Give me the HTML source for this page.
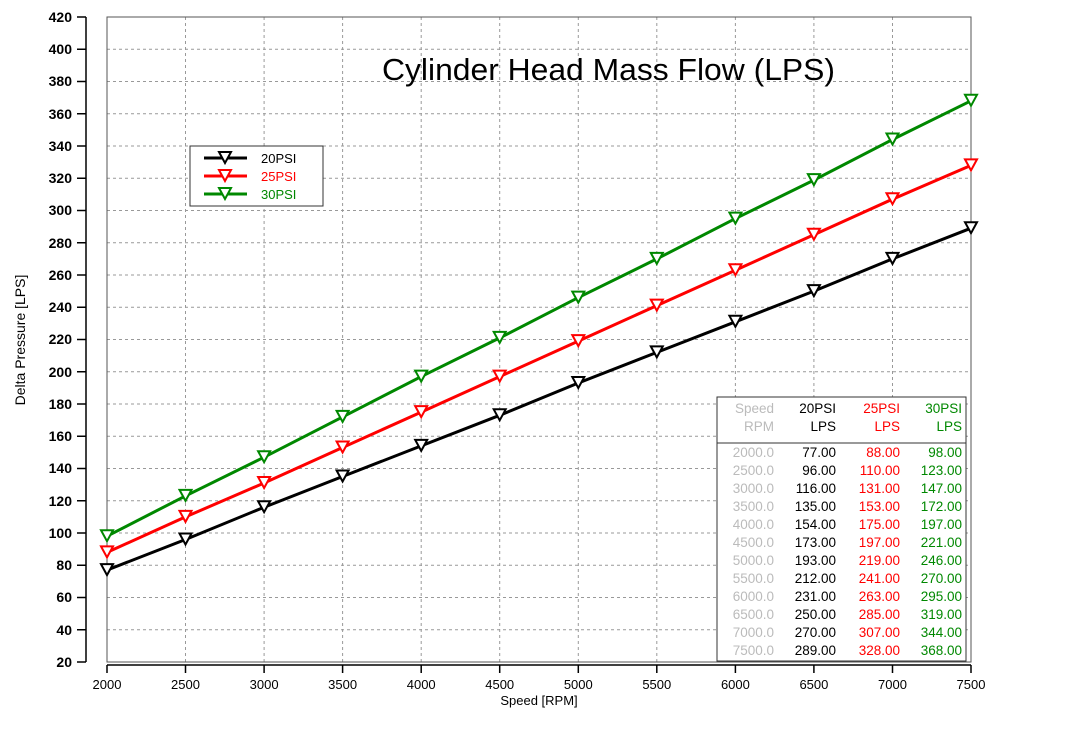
<!DOCTYPE html>
<html><head><style>body{margin:0;background:#fff}svg{display:block;font-family:"Liberation Sans",sans-serif}</style></head><body>
<svg width="1080" height="755" xmlns="http://www.w3.org/2000/svg">
<defs><path id="m" d="M-6,-6 L6,-6 L0,5 Z" fill="#fff" stroke-width="2"/></defs>
<rect width="1080" height="755" fill="#fff"/>
<g stroke="#999" stroke-dasharray="3,3" stroke-width="1">
<path d="M107,49.3H971M107,81.5H971M107,113.8H971M107,146H971M107,178.3H971M107,210.5H971M107,242.8H971M107,275H971M107,307.3H971M107,339.5H971M107,371.8H971M107,404H971M107,436.3H971M107,468.5H971M107,500.8H971M107,533H971M107,565.3H971M107,597.5H971M107,629.8H971"/>
<path d="M185.5,17V662M264.1,17V662M342.6,17V662M421.2,17V662M499.7,17V662M578.3,17V662M656.8,17V662M735.4,17V662M813.9,17V662M892.5,17V662"/>
</g>
<rect x="107" y="17" width="864" height="645" fill="none" stroke="#555" stroke-width="1"/>
<path d="M86,17V662" stroke="#000" stroke-width="1.5"/>
<g stroke="#000" stroke-width="1.5"><path d="M77,17H86M77,49.3H86M77,81.5H86M77,113.8H86M77,146H86M77,178.3H86M77,210.5H86M77,242.8H86M77,275H86M77,307.3H86M77,339.5H86M77,371.8H86M77,404H86M77,436.3H86M77,468.5H86M77,500.8H86M77,533H86M77,565.3H86M77,597.5H86M77,629.8H86M77,662H86"/>
<path d="M107,665H971M107,665V673M185.5,665V673M264.1,665V673M342.6,665V673M421.2,665V673M499.7,665V673M578.3,665V673M656.8,665V673M735.4,665V673M813.9,665V673M892.5,665V673M971,665V673"/></g>
<g font-size="14" font-weight="bold" text-anchor="end">
<text x="72" y="22">420</text><text x="72" y="54">400</text><text x="72" y="86">380</text><text x="72" y="119">360</text><text x="72" y="151">340</text><text x="72" y="183">320</text><text x="72" y="215">300</text><text x="72" y="248">280</text><text x="72" y="280">260</text><text x="72" y="312">240</text><text x="72" y="344">220</text><text x="72" y="377">200</text><text x="72" y="409">180</text><text x="72" y="441">160</text><text x="72" y="473">140</text><text x="72" y="506">120</text><text x="72" y="538">100</text><text x="72" y="570">80</text><text x="72" y="602">60</text><text x="72" y="635">40</text><text x="72" y="667">20</text>
</g>
<g font-size="13" text-anchor="middle">
<text x="107" y="689">2000</text><text x="185.5" y="689">2500</text><text x="264.1" y="689">3000</text><text x="342.6" y="689">3500</text><text x="421.2" y="689">4000</text><text x="499.7" y="689">4500</text><text x="578.3" y="689">5000</text><text x="656.8" y="689">5500</text><text x="735.4" y="689">6000</text><text x="813.9" y="689">6500</text><text x="892.5" y="689">7000</text><text x="971" y="689">7500</text>
<text x="539" y="705">Speed [RPM]</text>
<text transform="translate(25,340) rotate(-90)" font-size="14">Delta Pressure [LPS]</text>
</g>
<text x="382" y="80" font-size="31" textLength="453" lengthAdjust="spacingAndGlyphs">Cylinder Head Mass Flow (LPS)</text>
<g fill="none" stroke-width="3">
<polyline stroke="#000" points="107,570.1 185.5,539.5 264.1,507.2 342.6,476.5 421.2,445.9 499.7,415.3 578.3,383 656.8,352.4 735.4,321.8 813.9,291.1 892.5,258.9 971,228.2"/>
<polyline stroke="#f00" points="107,552.4 185.5,516.9 264.1,483 342.6,447.5 421.2,412.1 499.7,376.6 578.3,341.1 656.8,305.6 735.4,270.2 813.9,234.7 892.5,199.2 971,165.4"/>
<polyline stroke="#080" points="107,536.2 185.5,495.9 264.1,457.2 342.6,416.9 421.2,376.6 499.7,337.9 578.3,297.6 656.8,258.9 735.4,218.6 813.9,180.1 892.5,139.5 971,100.8"/>
</g>
<g stroke="#000"><use href="#m" x="107" y="570.1"/><use href="#m" x="185.5" y="539.5"/><use href="#m" x="264.1" y="507.2"/><use href="#m" x="342.6" y="476.5"/><use href="#m" x="421.2" y="445.9"/><use href="#m" x="499.7" y="415.3"/><use href="#m" x="578.3" y="383"/><use href="#m" x="656.8" y="352.4"/><use href="#m" x="735.4" y="321.8"/><use href="#m" x="813.9" y="291.1"/><use href="#m" x="892.5" y="258.9"/><use href="#m" x="971" y="228.2"/></g>
<g stroke="#f00"><use href="#m" x="107" y="552.4"/><use href="#m" x="185.5" y="516.9"/><use href="#m" x="264.1" y="483"/><use href="#m" x="342.6" y="447.5"/><use href="#m" x="421.2" y="412.1"/><use href="#m" x="499.7" y="376.6"/><use href="#m" x="578.3" y="341.1"/><use href="#m" x="656.8" y="305.6"/><use href="#m" x="735.4" y="270.2"/><use href="#m" x="813.9" y="234.7"/><use href="#m" x="892.5" y="199.2"/><use href="#m" x="971" y="165.4"/></g>
<g stroke="#080"><use href="#m" x="107" y="536.2"/><use href="#m" x="185.5" y="495.9"/><use href="#m" x="264.1" y="457.2"/><use href="#m" x="342.6" y="416.9"/><use href="#m" x="421.2" y="376.6"/><use href="#m" x="499.7" y="337.9"/><use href="#m" x="578.3" y="297.6"/><use href="#m" x="656.8" y="258.9"/><use href="#m" x="735.4" y="218.6"/><use href="#m" x="813.9" y="180.1"/><use href="#m" x="892.5" y="139.5"/><use href="#m" x="971" y="100.8"/></g>
<rect x="190" y="146" width="133" height="60" fill="#fff" stroke="#333"/>
<g stroke-width="3"><path d="M204,158H247" stroke="#000"/><path d="M204,176H247" stroke="#f00"/><path d="M204,194H247" stroke="#080"/></g>
<use href="#m" x="225" y="158" stroke="#000"/><use href="#m" x="225" y="176" stroke="#f00"/><use href="#m" x="225" y="194" stroke="#080"/>
<g font-size="13"><text x="261" y="163" fill="#000">20PSI</text><text x="261" y="181" fill="#f00">25PSI</text><text x="261" y="199" fill="#080">30PSI</text></g>
<rect x="717" y="397" width="249" height="264" fill="#fff" stroke="#333"/>
<path d="M717,443H966" stroke="#333"/>
<g font-size="13.5" text-anchor="end">
<g fill="#bbb"><text x="774" y="413">Speed</text><text x="774" y="431">RPM</text>
<text x="774" y="457">2000.0</text><text x="774" y="475">2500.0</text><text x="774" y="493">3000.0</text><text x="774" y="511">3500.0</text><text x="774" y="529">4000.0</text><text x="774" y="547">4500.0</text><text x="774" y="565">5000.0</text><text x="774" y="583">5500.0</text><text x="774" y="601">6000.0</text><text x="774" y="619">6500.0</text><text x="774" y="637">7000.0</text><text x="774" y="655">7500.0</text></g>
<g fill="#000"><text x="836" y="413">20PSI</text><text x="836" y="431">LPS</text>
<text x="836" y="457">77.00</text><text x="836" y="475">96.00</text><text x="836" y="493">116.00</text><text x="836" y="511">135.00</text><text x="836" y="529">154.00</text><text x="836" y="547">173.00</text><text x="836" y="565">193.00</text><text x="836" y="583">212.00</text><text x="836" y="601">231.00</text><text x="836" y="619">250.00</text><text x="836" y="637">270.00</text><text x="836" y="655">289.00</text></g>
<g fill="#f00"><text x="900" y="413">25PSI</text><text x="900" y="431">LPS</text>
<text x="900" y="457">88.00</text><text x="900" y="475">110.00</text><text x="900" y="493">131.00</text><text x="900" y="511">153.00</text><text x="900" y="529">175.00</text><text x="900" y="547">197.00</text><text x="900" y="565">219.00</text><text x="900" y="583">241.00</text><text x="900" y="601">263.00</text><text x="900" y="619">285.00</text><text x="900" y="637">307.00</text><text x="900" y="655">328.00</text></g>
<g fill="#080"><text x="962" y="413">30PSI</text><text x="962" y="431">LPS</text>
<text x="962" y="457">98.00</text><text x="962" y="475">123.00</text><text x="962" y="493">147.00</text><text x="962" y="511">172.00</text><text x="962" y="529">197.00</text><text x="962" y="547">221.00</text><text x="962" y="565">246.00</text><text x="962" y="583">270.00</text><text x="962" y="601">295.00</text><text x="962" y="619">319.00</text><text x="962" y="637">344.00</text><text x="962" y="655">368.00</text></g>
</g>
</svg>
</body></html>
